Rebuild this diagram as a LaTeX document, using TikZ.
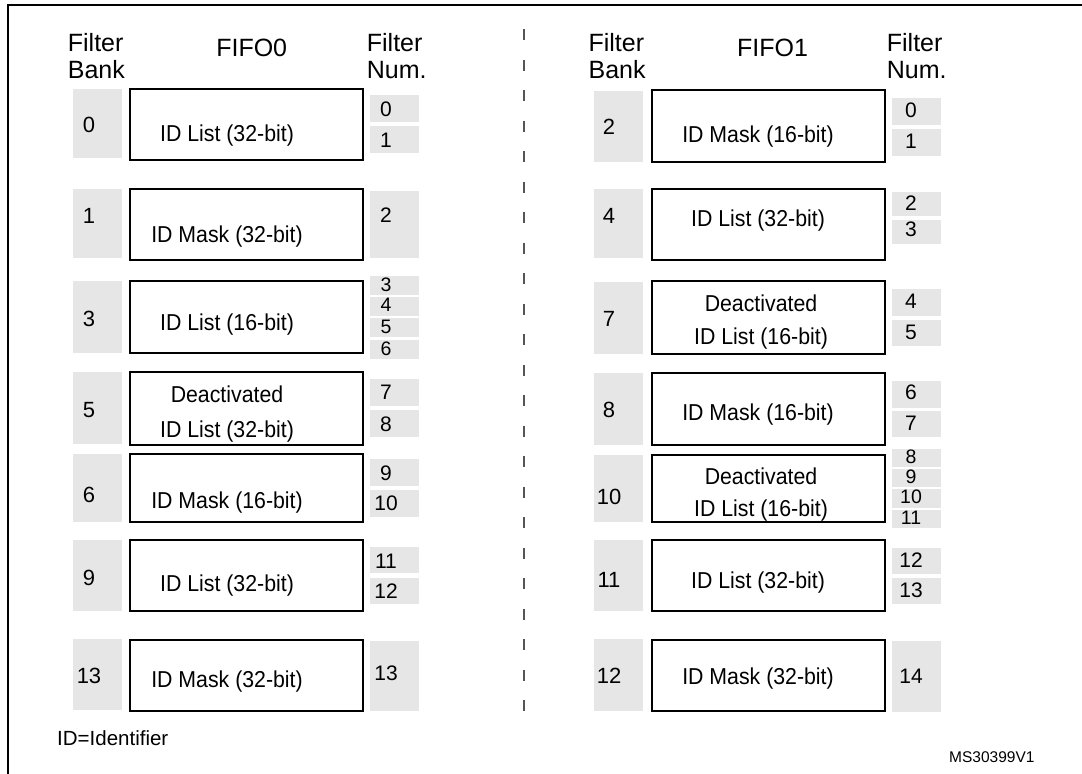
\documentclass[tikz,border=0pt]{standalone}
\usepackage{fontspec}
\setmainfont{Liberation Sans}
\definecolor{boxgray}{HTML}{E6E6E6}
\definecolor{dashgray}{HTML}{555555}
\tikzset{
  gbox/.style={fill=boxgray, draw=none, inner sep=0pt, outer sep=0pt},
  mbox/.style={draw=black, line width=2.4pt, inner sep=0pt, fill=white},
  lbl/.style={inner sep=0pt, anchor=base},
  lblw/.style={inner sep=0pt, anchor=base west},
  frameline/.style={draw=black, line width=2.2pt},
  divider/.style={draw=dashgray, line width=1.6pt, dash pattern=on 11pt off 19.5pt}
}
\newcommand\fsz[1]{\fontsize{#1pt}{#1pt}\selectfont}
\newcommand\gb[5]{\node[gbox, minimum width={(#4)-(#2)}, minimum height={(#5)-(#3)}] (#1) at ({((#2)+(#4))/2},{((#3)+(#5))/2}) {};}
\newcommand\mb[5]{\node[mbox, minimum width={(#4)-(#2)}, minimum height={(#5)-(#3)}] (#1) at ({((#2)+(#4))/2},{((#3)+(#5))/2}) {};}
\newcommand\tx[5]{\node[lbl, font=\fsz{#4}] (#1) at ({#2},{(#3)+0.358*(#4)}) {#5};}
\newcommand\bt[4]{\node[lbl, font=\fsz{21.3}] (#1) at ({#2},{(#3)+0.358*21.3*1.08}) {\scalebox{1}[1.08]{#4}};}
\newcommand\txw[5]{\node[lblw, font=\fsz{#4}] (#1) at ({#2},{(#3)+0.358*(#4)}) {#5};}
\begin{document}
\begin{tikzpicture}[x=1pt,y=-1pt]
\useasboundingbox (0,0) rectangle (1082,774);
% frame
\draw[frameline] (8,774) -- (8,5) -- (1082,5);
% divider
\draw[divider] (524,29) -- (524,727);

% headers
\txw{hlf}{67.7}{42.5}{25}{Filter}
\txw{hlb}{67.7}{70}{25}{Bank}
\tx{hlfifo}{251.7}{48}{25}{FIFO0}
\txw{hln1}{366.7}{42.5}{25}{Filter}
\txw{hln2}{366.7}{70}{25}{Num.}
\txw{hrf}{588.4}{42.5}{25}{Filter}
\txw{hrb}{588.4}{70}{25}{Bank}
\tx{hrfifo}{772.5}{48}{25}{FIFO1}
\txw{hrn1}{886.7}{42.5}{25}{Filter}
\txw{hrn2}{886.7}{70}{25}{Num.}

% ===== Left column =====
% A
\gb{lbA}{73}{89}{122}{158}
\mb{lmA}{130.2}{89.2}{362.8}{159.8}
\gb{lnA0}{370}{95}{419}{122}
\gb{lnA1}{370}{126}{419}{153}
\tx{lbtA}{89}{125}{22}{0}
\bt{lmtA}{227}{133}{ID List (32-bit)}
\tx{lntA0}{386}{108.5}{21}{0}
\tx{lntA1}{386}{139.5}{21}{1}
% B
\gb{lbB}{73}{189}{122}{258}
\mb{lmB}{130.2}{189.2}{362.8}{259.8}
\gb{lnB}{370}{191}{419}{258}
\tx{lbtB}{89}{216}{22}{1}
\bt{lmtB}{227}{234}{ID Mask (32-bit)}
\tx{lntB}{386}{215}{21}{2}
% C
\gb{lbC}{73}{281}{122}{353}
\mb{lmC}{130.2}{281.2}{362.8}{352.8}
\gb{lnC0}{370}{276}{419}{295}
\gb{lnC1}{370}{296.5}{419}{315.5}
\gb{lnC2}{370}{318}{419}{337}
\gb{lnC3}{370}{339.5}{419}{359}
\tx{lbtC}{89}{319}{22}{3}
\bt{lmtC}{227}{322}{ID List (16-bit)}
\tx{lntC0}{386}{284.5}{19.5}{3}
\tx{lntC1}{386}{305}{19.5}{4}
\tx{lntC2}{386}{326.5}{19.5}{5}
\tx{lntC3}{386}{348.5}{19.5}{6}
% D
\gb{lbD}{73}{371.5}{122}{444}
\mb{lmD}{130.2}{372.2}{362.8}{444.8}
\gb{lnD0}{370}{379}{419}{406}
\gb{lnD1}{370}{410}{419}{437}
\tx{lbtD}{89}{410}{22}{5}
\bt{lmtD1}{227}{394.6}{Deactivated}
\bt{lmtD2}{227}{429}{ID List (32-bit)}
\tx{lntD0}{386}{392}{21}{7}
\tx{lntD1}{386}{424}{21}{8}
% E
\gb{lbE}{73}{454}{122}{522}
\mb{lmE}{130.2}{454.2}{362.8}{521.8}
\gb{lnE0}{370}{459}{419}{486}
\gb{lnE1}{370}{490}{419}{517}
\tx{lbtE}{89}{495}{22}{6}
\bt{lmtE}{227}{500}{ID Mask (16-bit)}
\tx{lntE0}{386}{473}{21}{9}
\tx{lntE1}{386}{503}{21}{10}
% F
\gb{lbF}{73}{540}{122}{611}
\mb{lmF}{130.2}{540.2}{362.8}{610.8}
\gb{lnF0}{370}{547}{419}{573}
\gb{lnF1}{370}{578}{419}{604}
\tx{lbtF}{89}{578}{22}{9}
\bt{lmtF}{227}{583}{ID List (32-bit)}
\tx{lntF0}{386}{560.5}{21}{11}
\tx{lntF1}{386}{590.5}{21}{12}
% G
\gb{lbG}{73}{638.6}{122}{710}
\mb{lmG}{130.2}{640.2}{362.8}{710.8}
\gb{lnG}{370}{641}{419}{711}
\tx{lbtG}{89}{675.8}{22}{13}
\bt{lmtG}{227}{679}{ID Mask (32-bit)}
\tx{lntG}{386}{673}{21}{13}

% ===== Right column =====
% A
\gb{rbA}{594}{91}{643}{162}
\mb{rmA}{652.2}{90.2}{884.8}{161.8}
\gb{rnA0}{892}{98}{941}{125}
\gb{rnA1}{892}{129}{941}{156}
\tx{rbtA}{609}{127}{22}{2}
\bt{rmtA}{758}{134}{ID Mask (16-bit)}
\tx{rntA0}{911}{110}{21}{0}
\tx{rntA1}{911}{141}{21}{1}
% B
\gb{rbB}{594}{189}{643}{258}
\mb{rmB}{652.2}{189.2}{884.8}{259.8}
\gb{rnB0}{892}{192}{941}{216}
\gb{rnB1}{892}{220}{941}{244}
\tx{rbtB}{609}{216}{22}{4}
\bt{rmtB}{758}{218}{ID List (32-bit)}
\tx{rntB0}{911}{203}{21}{2}
\tx{rntB1}{911}{229}{21}{3}
% C
\gb{rbC}{594}{282}{643}{354}
\mb{rmC}{652.2}{281.2}{884.8}{353.8}
\gb{rnC0}{892}{289}{941}{316}
\gb{rnC1}{892}{320}{941}{346}
\tx{rbtC}{609}{319}{22}{7}
\bt{rmtC1}{761}{303.6}{Deactivated}
\bt{rmtC2}{761}{336.4}{ID List (16-bit)}
\tx{rntC0}{911}{301}{21}{4}
\tx{rntC1}{911}{332}{21}{5}
% D
\gb{rbD}{594}{372.7}{643}{444.6}
\mb{rmD}{652.2}{372.9}{884.8}{444.8}
\gb{rnD0}{892}{381}{941}{408}
\gb{rnD1}{892}{411}{941}{437}
\tx{rbtD}{609}{409.7}{22}{8}
\bt{rmtD}{758}{411.8}{ID Mask (16-bit)}
\tx{rntD0}{911}{392}{21}{6}
\tx{rntD1}{911}{423}{21}{7}
% E
\gb{rbE}{594}{455}{643}{522}
\mb{rmE}{652.2}{455.2}{884.8}{521.8}
\gb{rnE0}{892}{449}{941}{467}
\gb{rnE1}{892}{469}{941}{487}
\gb{rnE2}{892}{489}{941}{508}
\gb{rnE3}{892}{510}{941}{528}
\tx{rbtE}{609}{497}{22}{10}
\bt{rmtE1}{761}{476}{Deactivated}
\bt{rmtE2}{761}{508.5}{ID List (16-bit)}
\tx{rntE0}{911}{456.7}{19.5}{8}
\tx{rntE1}{911}{477}{19.5}{9}
\tx{rntE2}{911}{497}{19.5}{10}
\tx{rntE3}{911}{518}{19.5}{11}
% F
\gb{rbF}{594}{540}{643}{611}
\mb{rmF}{652.2}{540.2}{884.8}{610.8}
\gb{rnF0}{892}{548}{941}{574}
\gb{rnF1}{892}{578}{941}{604}
\tx{rbtF}{609}{580}{22}{11}
\bt{rmtF}{758}{580}{ID List (32-bit)}
\tx{rntF0}{911}{560}{21}{12}
\tx{rntF1}{911}{590}{21}{13}
% G
\gb{rbG}{594}{638.7}{643}{710.6}
\mb{rmG}{652.2}{640.2}{884.8}{710.8}
\gb{rnG}{892}{641}{941}{711.6}
\tx{rbtG}{609}{675.4}{22}{12}
\bt{rmtG}{758}{676.7}{ID Mask (32-bit)}
\tx{rntG}{911}{676}{21}{14}

% footer
\txw{note}{57}{738.6}{20.5}{ID=Identifier}
\txw{code}{949}{757}{15.5}{MS30399V1}
\end{tikzpicture}
\end{document}
